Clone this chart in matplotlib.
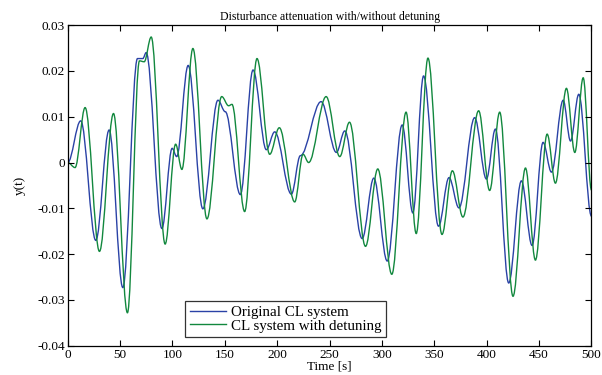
import numpy as np
import matplotlib
matplotlib.use('Agg')
import matplotlib.pyplot as plt
from matplotlib.path import Path
from matplotlib.patches import PathPatch
from matplotlib.lines import Line2D

plt.rcParams['font.family'] = ['Liberation Serif', 'DejaVu Serif']

# knots (peaks, troughs, shoulders)
t_orig = [0, 12.4, 26.8, 39.5, 52.6, 66.6, 71.7, 74.9, 89.9, 99.7, 104, 115, 129,
          143.4, 150.4, 164.8, 176.9, 189.6, 197.6, 213.5, 222.1, 241.9, 256.5, 264.5,
          281.1, 292.2, 305, 319.3, 329.5, 339.7, 354, 364, 373.5, 388.5, 399.7, 408.3,
          421, 433.1, 443.3, 453.8, 461.8, 473, 480, 487.9, 500]
y_orig = [0, 0.0091, -0.0170, 0.0071, -0.0273, 0.0227, 0.0227, 0.0240, -0.0144, 0.0031,
          0.0013, 0.0212, -0.0101, 0.0136, 0.0111, -0.0070, 0.0202, 0.0028, 0.0067,
          -0.0069, 0.0015, 0.0133, 0.0022, 0.0069, -0.0166, -0.0034, -0.0215, 0.0082,
          -0.0110, 0.0189, -0.0139, -0.0033, -0.0099, 0.0098, -0.0036, 0.0073, -0.0263,
          -0.0040, -0.0181, 0.0044, -0.0021, 0.0136, 0.0047, 0.0149, -0.0117]

t_detu = [0, 7, 16.6, 30.3, 43.7, 57, 68.5, 73, 79.7, 93, 103, 109, 119.5, 132.9,
          147, 153.6, 156.8, 168.9, 180.7, 192.8, 202, 216.7, 224.7, 230, 246.7, 259.7,
          269, 284.3, 296, 309.4, 323, 332.7, 343.9, 357.3, 367.2, 377.3, 392.3, 402.8,
          412.4, 425.1, 437, 446.5, 457.7, 465.6, 476.1, 484.1, 492.1, 500]
y_detu = [0, -0.0011, 0.0120, -0.0194, 0.0107, -0.0328, 0.0222, 0.0220, 0.0274, -0.0178,
          0.0040, -0.0015, 0.0249, -0.0123, 0.0144, 0.0124, 0.0127, -0.0107, 0.0227,
          0.0018, 0.0076, -0.0086, 0.0018, 0.0000, 0.0144, 0.0013, 0.0088, -0.0183,
          -0.0014, -0.0244, 0.0110, -0.0155, 0.0228, -0.0157, -0.0018, -0.0119, 0.0113,
          -0.0061, 0.0110, -0.0292, -0.0012, -0.0213, 0.0062, -0.0045, 0.0162, 0.0022,
          0.0185, -0.0060]

labels = ['Original CL system', 'CL system with detuning']
colors = ['#2a42a6', '#12883e']


def smooth_path(t, y, k=0.36):
    # cubic bezier through the knots, flat tangent at each knot
    verts = [(t[0], y[0])]
    codes = [Path.MOVETO]
    for i in range(len(t) - 1):
        dt = t[i + 1] - t[i]
        verts += [(t[i] + k * dt, y[i]), (t[i + 1] - k * dt, y[i + 1]), (t[i + 1], y[i + 1])]
        codes += [Path.CURVE4] * 3
    return Path(verts, codes)


fig = plt.figure(figsize=(6.02, 3.75), dpi=100)
ax = fig.add_axes([0.1125, 0.078, 0.87, 0.855])

for t, y, c in zip([t_orig, t_detu], [y_orig, y_detu], colors):
    ax.add_patch(PathPatch(smooth_path(t, y), fill=False, edgecolor=c, lw=1.0))

ax.set_xlim(0, 500)
ax.set_ylim(-0.04, 0.03)
ax.set_xticks(np.arange(0, 501, 50))
ax.set_yticks(np.arange(-0.04, 0.031, 0.01))
ax.set_yticklabels(['-0.04', '-0.03', '-0.02', '-0.01', '0', '0.01', '0.02', '0.03'])
ax.tick_params(direction='in', top=True, right=True, labelsize=9.5, length=4, width=0.8, pad=2)
for s in ax.spines.values():
    s.set_linewidth(0.9)

ax.set_title('Disturbance attenuation with/without detuning', fontsize=8.5, pad=4)
ax.set_xlabel('Time [s]', fontsize=9.5, labelpad=0)
ax.set_ylabel('y(t)', fontsize=9.5, labelpad=8)

handles = [Line2D([], [], color=c, lw=1.0) for c in colors]
leg = ax.legend(handles, labels, loc='lower left', bbox_to_anchor=(0.224, 0.027),
                fontsize=10.8, frameon=True, fancybox=False, borderpad=0.3,
                handlelength=2.4, handletextpad=0.35, labelspacing=0.0, borderaxespad=0)
leg.get_frame().set_edgecolor('black')
leg.get_frame().set_linewidth(0.9)

fig.savefig('out.png', dpi=100)
